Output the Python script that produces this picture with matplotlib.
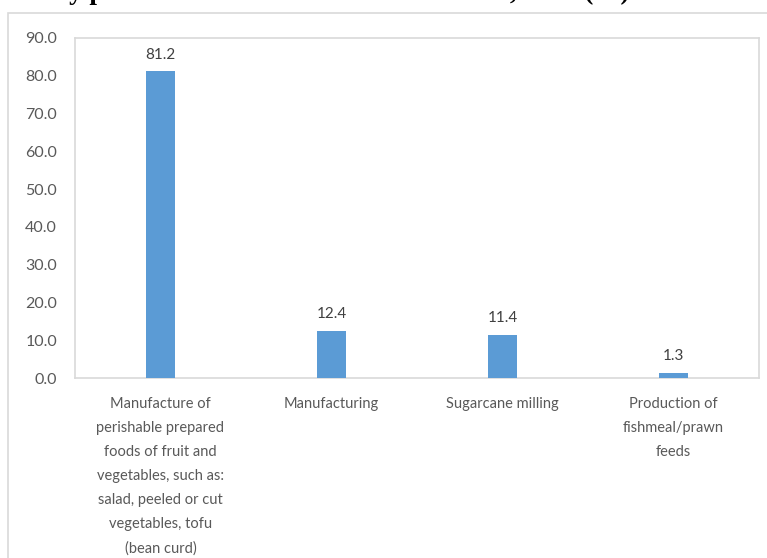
import matplotlib
matplotlib.use('Agg')
import matplotlib.pyplot as plt
from matplotlib.patches import Rectangle

categories = [
    "Manufacture of\nperishable prepared\nfoods of fruit and\nvegetables, such as:\nsalad, peeled or cut\nvegetables, tofu\n(bean curd)",
    "Manufacturing",
    "Sugarcane milling",
    "Production of\nfishmeal/prawn\nfeeds",
]
shares = [81.2, 12.4, 11.4, 1.3]
y_ticks = [0, 10, 20, 30, 40, 50, 60, 70, 80, 90]

BAR = '#5b9bd5'
GRID = '#d9d9d9'
TXT = '#595959'

plt.rcParams['font.family'] = ['Lato', 'DejaVu Sans']

W, H = 767, 558
fig = plt.figure(figsize=(W / 100, H / 100), dpi=100)

# outer chart frame
fig.patches.append(Rectangle((8 / W, -0.05), 1.2, (H - 13) / H + 0.05,
                             transform=fig.transFigure, fill=False,
                             edgecolor=GRID, linewidth=1.2))

# title sits above the top edge, only descenders fall inside
fig.text(36 / W, 1.0 + 1 / H, "Key processed food industries of all units, 2017 (%)",
         family='Liberation Serif', fontweight='bold', fontsize=19.5,
         ha='left', va='baseline', color='black')

ax = fig.add_axes([75 / W, 1 - 378 / H, (759 - 75) / W, (378 - 38) / H])
x = list(range(len(categories)))
bars = ax.bar(x, shares, width=0.165, color=BAR, zorder=3)

for b, v in zip(bars, shares):
    ax.annotate(f"{v:.1f}", (b.get_x() + b.get_width() / 2, v),
                xytext=(0, 7), textcoords='offset points',
                ha='center', va='bottom', fontsize=11, color='#404040')

ax.set_xlim(-0.5, len(categories) - 0.5)
ax.set_ylim(0, 90)
ax.set_yticks(y_ticks)
ax.set_yticklabels([f"{t:.1f}" for t in y_ticks], fontsize=11.5)
ax.set_xticks(x)
ax.set_xticklabels(categories, linespacing=1.9, va='top', fontsize=10.5)

for s in ax.spines.values():
    s.set_color(GRID)
    s.set_linewidth(1.2)

ax.tick_params(axis='both', length=0, colors=TXT)
ax.tick_params(axis='y', pad=13)
ax.tick_params(axis='x', pad=14)

fig.savefig('out.png', dpi=100)
